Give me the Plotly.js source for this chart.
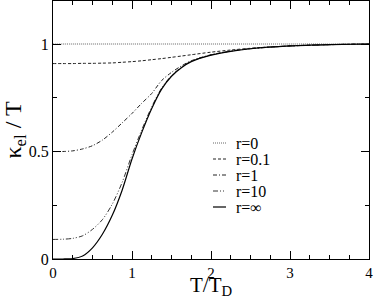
<!DOCTYPE html>
<html>
<head>
<meta charset="utf-8">
<script src="https://cdn.plot.ly/plotly-3.0.1.min.js"></script>
<style>html,body{margin:0;padding:0;background:#fff;}#chart{width:374px;height:299px;}</style>
</head>
<body>
<div id="chart"></div>
<script>
const tGrid = [0, 0.125, 0.25, 0.375, 0.5, 0.625, 0.75, 0.875, 1.0, 1.125, 1.25, 1.375, 1.5, 1.625, 1.75, 2.0, 2.25, 2.5, 3.0, 3.5, 4.0];
const r0    = [1, 1, 1, 1, 1, 1, 1, 1, 1, 1, 1, 1, 1, 1, 1, 1, 1, 1, 1, 1, 1];
const r01   = [0.909, 0.909, 0.909, 0.910, 0.910, 0.911, 0.912, 0.915, 0.918, 0.922, 0.927, 0.932, 0.938, 0.944, 0.950, 0.962, 0.972, 0.980, 0.991, 0.997, 1.0];
const r1    = [0.500, 0.500, 0.503, 0.512, 0.527, 0.553, 0.590, 0.633, 0.677, 0.725, 0.770, 0.830, 0.868, 0.898, 0.922, 0.950, 0.967, 0.979, 0.991, 0.997, 1.0];
const r10   = [0.091, 0.092, 0.096, 0.108, 0.138, 0.183, 0.255, 0.356, 0.485, 0.602, 0.708, 0.795, 0.853, 0.892, 0.920, 0.949, 0.967, 0.978, 0.991, 0.997, 1.0];
const rInf  = [0.000, 0.000, 0.002, 0.014, 0.052, 0.115, 0.203, 0.320, 0.465, 0.590, 0.700, 0.790, 0.850, 0.890, 0.918, 0.948, 0.966, 0.978, 0.991, 0.997, 1.0];
const seriesNames = ['r=0', 'r=0.1', 'r=1', 'r=10', 'r=\u221e'];
const xTickVals = [0, 1, 2, 3, 4];
const xHalfTicks = [0.5, 1.5, 2.5, 3.5];
const yTickVals = [0, 0.5, 1];
const yTickText = ['0', '0.5', '1'];

const seriesData = [r0, r01, r1, r10, rInf];
const styles = [
  {color: '#666', width: 1, dash: '1px,1px'},
  {color: '#222', width: 1, dash: '3px,2px'},
  {color: '#222', width: 1, dash: '4px,2px,1px,2px'},
  {color: '#333', width: 1, dash: '5px,2px,1px,2px,1px,2px'},
  {color: '#000', width: 1.2, dash: 'solid'}
];

const traces = seriesData.map((y, i) => ({
  x: tGrid, y: y, name: seriesNames[i], type: 'scatter', mode: 'lines',
  line: Object.assign({shape: 'spline', smoothing: 0.8}, styles[i]),
  showlegend: false
}));

const serif = 'Liberation Serif, Times New Roman, serif';

// compact legend
const legRowsPx = [143, 159, 175, 191, 207];
const plotTop = 1, plotBot = 259, plotL = 53, plotR = 369;
const toPY = py => (plotBot - py) / (plotBot - plotTop);
const toPX = px => (px - plotL) / (plotR - plotL);
const shapes = [], annotations = [];
seriesNames.forEach((n, i) => {
  const yy = toPY(legRowsPx[i]);
  shapes.push({type: 'line', xref: 'paper', yref: 'paper', x0: toPX(213), x1: toPX(226), y0: yy, y1: yy,
    line: {color: styles[i].color, width: styles[i].width, dash: styles[i].dash}});
  annotations.push({xref: 'paper', yref: 'paper', x: toPX(235), y: yy, xanchor: 'left', yanchor: 'middle',
    text: n, showarrow: false, borderpad: 0,
    font: {family: serif, size: 16, color: '#000'}});
});
// x-axis title placed below tick labels
annotations.push({xref: 'paper', yref: 'paper', x: 0.5, y: toPY(272), xanchor: 'center', yanchor: 'top',
  text: 'T/T<sub>D</sub>', showarrow: false, borderpad: 0,
  font: {family: serif, size: 21, color: '#000'}});

const layout = {
  width: 374, height: 299,
  margin: {l: 53, r: 5, t: 1, b: 40},
  paper_bgcolor: '#fff', plot_bgcolor: '#fff',
  showlegend: false,
  xaxis: {
    range: [0, 4], showgrid: false, zeroline: false,
    showline: true, linecolor: '#000', linewidth: 1, mirror: 'ticks',
    ticks: 'inside', ticklen: 8, tickcolor: '#000', tickwidth: 1,
    tickmode: 'array', tickvals: xTickVals,
    minor: {dtick: 0.25, ticklen: 4, tickcolor: '#000', ticks: 'inside'},
    tickfont: {family: serif, size: 15, color: '#000'}
  },
  xaxis2: {
    overlaying: 'x', anchor: 'y', side: 'bottom', range: [0, 4],
    showgrid: false, zeroline: false, showline: false, mirror: 'ticks',
    ticks: 'inside', ticklen: 8, tickcolor: '#000', tickwidth: 1,
    tickmode: 'array', tickvals: xHalfTicks, showticklabels: false
  },
  yaxis: {
    range: [0, 1.2], showgrid: false, zeroline: false,
    showline: true, linecolor: '#000', linewidth: 1, mirror: 'ticks',
    ticks: 'inside', ticklen: 8, tickcolor: '#000', tickwidth: 1,
    tickmode: 'array', tickvals: yTickVals, ticktext: yTickText,
    minor: {dtick: 0.25, ticklen: 4, tickcolor: '#000', ticks: 'inside'},
    tickfont: {family: serif, size: 16, color: '#000'},
    title: {text: '\u03ba<sub>el</sub> / T', font: {family: serif, size: 24, color: '#000'}, standoff: 6}
  },
  shapes: shapes,
  annotations: annotations
};

Plotly.newPlot('chart', traces, layout, {displayModeBar: false, staticPlot: true});
</script>
</body>
</html>
